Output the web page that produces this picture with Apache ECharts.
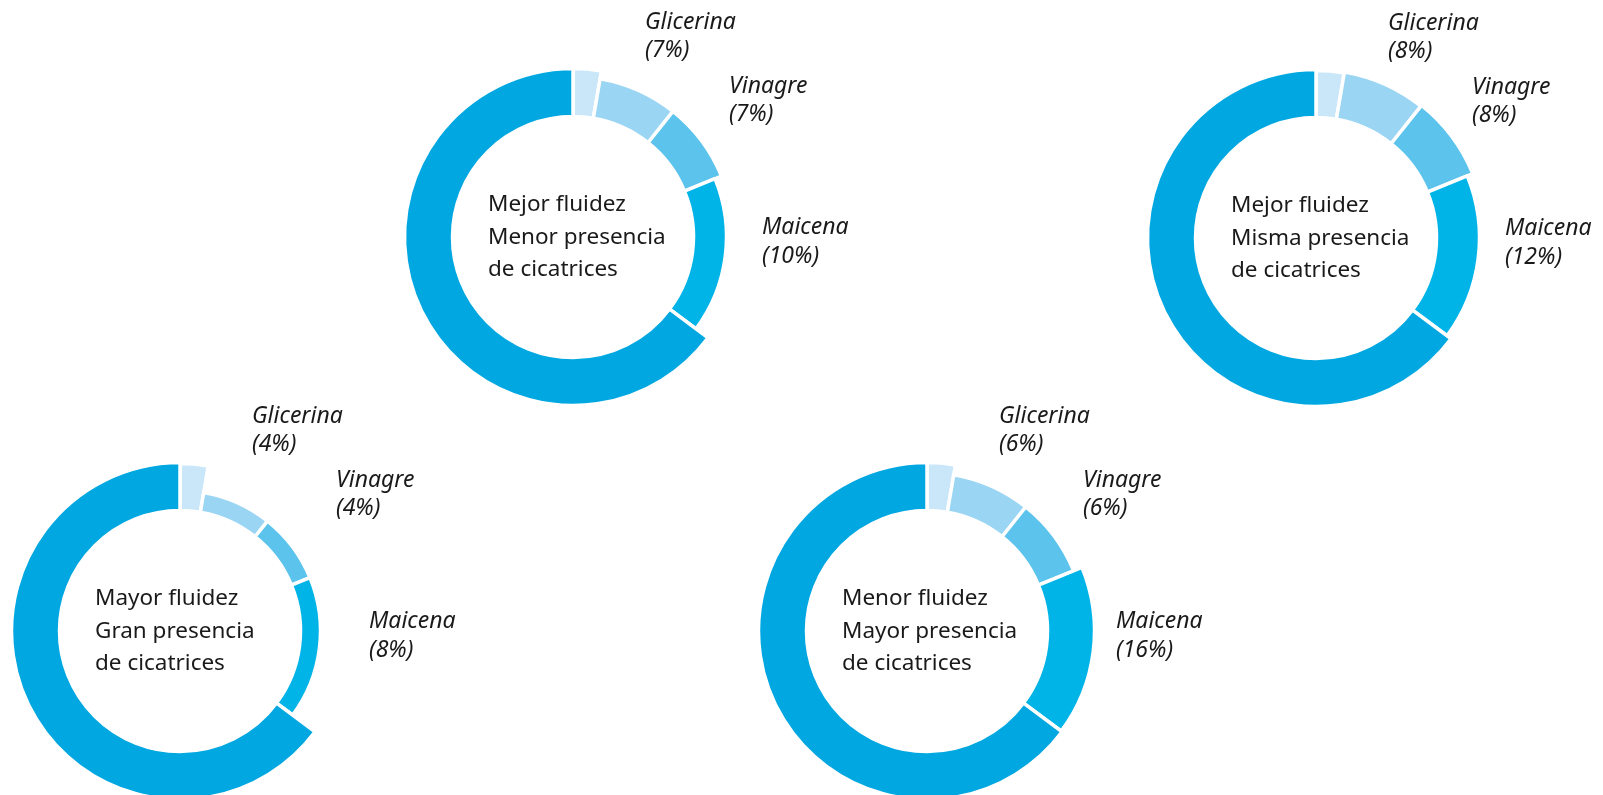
<!DOCTYPE html>
<html>
<head>
<meta charset="utf-8">
<script src="https://cdn.jsdelivr.net/npm/echarts@6/dist/echarts.min.js"></script>
<style>
  html, body { margin: 0; padding: 0; background: #fff; }
  #chart { width: 1603px; height: 795px; }
</style>
</head>
<body>
<div id="chart"></div>
<script>
// Panels, in order: top centre, top right, bottom left, bottom right
const centreLines = [
  ["Mejor fluidez", "Menor presencia", "de cicatrices"],
  ["Mejor fluidez", "Misma presencia", "de cicatrices"],
  ["Mayor fluidez", "Gran presencia", "de cicatrices"],
  ["Menor fluidez", "Mayor presencia", "de cicatrices"]
];
const ingredients = ["Glicerina", "Vinagre", "Maicena"];
const glicerina = [7, 8, 4, 6];
const vinagre = [7, 8, 4, 6];
const maicena = [10, 12, 8, 16];

// Ring segments, clockwise from 12 o'clock, with their share of the ring
const segmentNames = ["s1", "s2", "s3", "s4", "s5"];
const segmentShares = [2.7, 8.0, 8.1, 16.4, 64.8];

// Layout and style
const layout = {
  centers: [[573, 237], [1316, 238], [180, 631], [927, 631]],
  inner: 122,
  outer: [
    [167, 159, 159, 152, 167],
    [166, 167, 168, 162, 167],
    [166, 139, 139, 139, 167],
    [167, 157, 157, 166, 167]
  ],
  colors: ["#C9E7F9", "#9AD5F4", "#5BC3EC", "#00B4E8", "#00A7E1"],
  gap: 3.5,
  labelOffsets: [[72, -215], [156, -151], [189, -9.5]],
  labelLineGap: 28.5,
  centreDx: -85,
  centreDy: [-32, 0.5, 32.5],
  font: '"Noto Sans", sans-serif',
  textColor: "#1a1a1a"
};

const series = [];
layout.centers.forEach((c, p) => {
  segmentShares.forEach((_, s) => {
    series.push({
      type: "pie",
      center: c,
      radius: [layout.inner - 1.5, layout.outer[p][s] + 1.5],
      startAngle: 90,
      clockwise: true,
      silent: true,
      animation: false,
      avoidLabelOverlap: false,
      label: { show: false },
      labelLine: { show: false },
      emphasis: { disabled: true },
      data: segmentShares.map((v, k) => ({
        name: segmentNames[k],
        value: v,
        itemStyle: k === s
          ? { color: layout.colors[k], borderColor: "#fff", borderWidth: layout.gap }
          : { color: "rgba(0,0,0,0)", borderWidth: 0 }
      }))
    });
  });
});

const graphics = [];
layout.centers.forEach((c, p) => {
  centreLines[p].forEach((t, i) => {
    graphics.push({
      type: "text", silent: true, z: 100,
      x: c[0] + layout.centreDx, y: c[1] + layout.centreDy[i],
      style: { text: t, font: "22.5px " + layout.font, fill: layout.textColor,
               textAlign: "left", textVerticalAlign: "middle" }
    });
  });
  const values = [glicerina[p], vinagre[p], maicena[p]];
  ingredients.forEach((name, k) => {
    const o = layout.labelOffsets[k];
    [name, "(" + values[k] + "%)"].forEach((t, i) => {
      graphics.push({
        type: "text", silent: true, z: 100,
        x: c[0] + o[0], y: c[1] + o[1] + i * layout.labelLineGap,
        style: { text: t, font: "italic 23px " + layout.font, fill: layout.textColor,
                 textAlign: "left", textVerticalAlign: "middle" }
      });
    });
  });
});

const chart = echarts.init(document.getElementById("chart"), null, { renderer: "canvas" });
chart.setOption({
  backgroundColor: "#fff",
  animation: false,
  series: series,
  graphic: graphics
});
</script>
</body>
</html>
